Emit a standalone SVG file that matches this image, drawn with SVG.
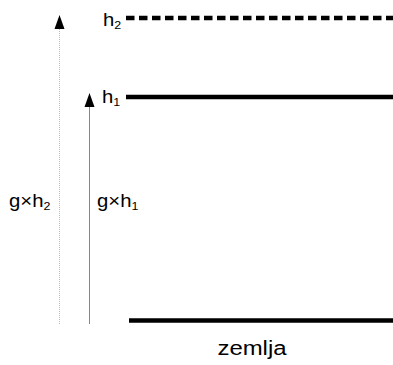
<svg xmlns="http://www.w3.org/2000/svg" width="393" height="365" viewBox="0 0 393 365">
<defs>
<style>
text{font-family:"Liberation Sans",Arial,sans-serif;fill:#000}
.lbl{font-size:18px}
.sub{font-size:11px}
.lvl{stroke:#000;stroke-width:4.5;fill:none}
</style>
</defs>
<rect width="393" height="365" fill="#fff"/>
<g id="level-h2">
<line class="lvl" x1="126" y1="18" x2="393" y2="18" stroke-dasharray="8.5,4.5"/>
<text class="lbl" transform="translate(103,26) scale(1.13,1)">h<tspan class="sub" dy="3">2</tspan></text>
</g>
<g id="level-h1">
<line class="lvl" x1="126" y1="97" x2="393" y2="97"/>
<text class="lbl" transform="translate(102,102.5) scale(1.13,1)">h<tspan class="sub" dy="3">1</tspan></text>
</g>
<g id="ground">
<line class="lvl" x1="129" y1="320.5" x2="393" y2="320.5"/>
<text font-size="21" text-anchor="middle" transform="translate(252,355) scale(1.14,1)">zemlja</text>
</g>
<g id="connectors">
<line x1="59.5" y1="324" x2="59.5" y2="28" stroke="#bbb" stroke-width="1" stroke-dasharray="1,1"/>
<path d="M54.5,29 L59.5,15 L64.5,29 Z" fill="#000"/>
<line x1="89.5" y1="324" x2="89.5" y2="106" stroke="#888" stroke-width="1"/>
<path d="M84.5,107 L89.5,93 L94.5,107 Z" fill="#000"/>
</g>
<g id="label-gh2">
<text class="lbl" transform="translate(9,207) scale(1.13,1)">g×h<tspan class="sub" dy="3">2</tspan></text>
</g>
<g id="label-gh1">
<text class="lbl" transform="translate(97,207) scale(1.13,1)">g×h<tspan class="sub" dy="3">1</tspan></text>
</g>
</svg>
